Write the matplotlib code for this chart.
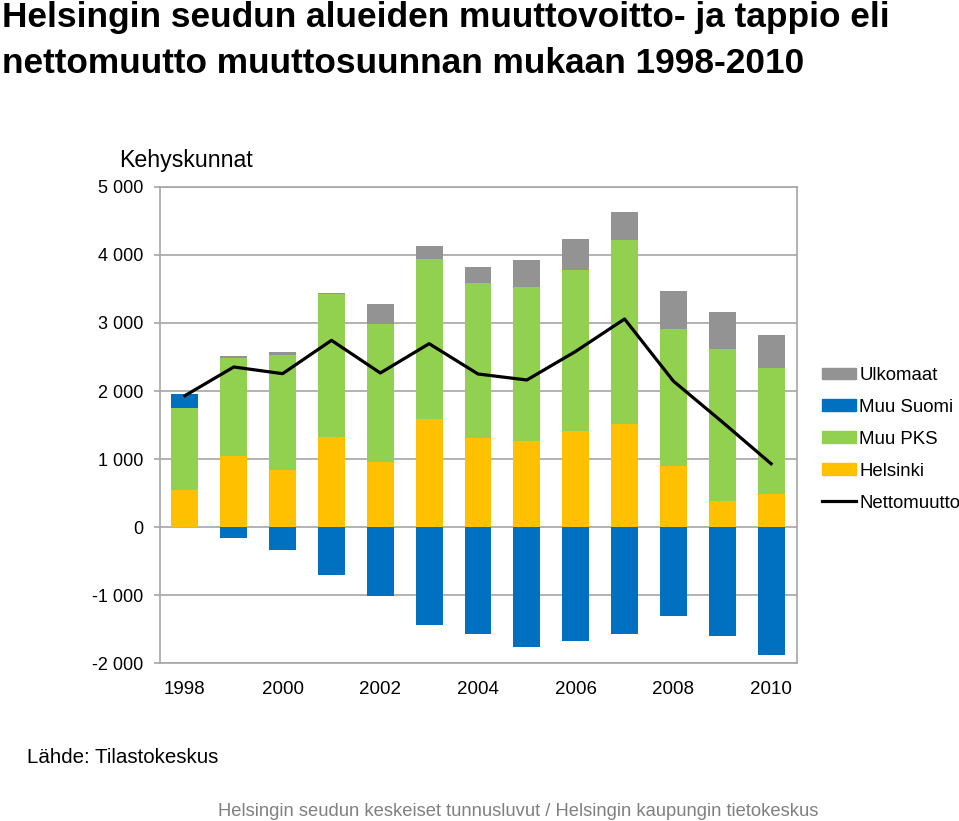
import numpy as np
import matplotlib.pyplot as plt
from matplotlib.patches import Patch
from matplotlib.lines import Line2D
from matplotlib.ticker import FuncFormatter

plt.rcParams['font.family'] = ['Liberation Sans', 'DejaVu Sans']

years = np.arange(1998, 2011)
helsinki = [540, 1039, 838, 1319, 951, 1593, 1304, 1270, 1407, 1515, 892, 387, 490]
muu_pks = [1205, 1446, 1687, 2107, 2039, 2348, 2279, 2259, 2377, 2710, 2025, 2226, 1848]
muu_suomi = [211, -161, -332, -702, -1020, -1444, -1571, -1771, -1673, -1576, -1312, -1605, -1888]
ulkomaat = [0, 25, 53, 15, 289, 191, 245, 402, 456, 407, 549, 544, 490]
nettomuutto = [1931, 2353, 2255, 2745, 2265, 2696, 2250, 2162, 2583, 3059, 2145, 1545, 930]

series = [("Helsinki", helsinki, "#FFC000"),
          ("Muu PKS", muu_pks, "#92D050"),
          ("Muu Suomi", muu_suomi, "#0070C0"),
          ("Ulkomaat", ulkomaat, "#939393")]

fig = plt.figure(figsize=(9.59, 8.21), dpi=100)
ax = fig.add_axes([160/959, 1-663/821, 637/959, 476/821])

pos = np.zeros(len(years))
neg = np.zeros(len(years))
for name, vals, col in series:
    v = np.array(vals, dtype=float)
    bottom = np.where(v >= 0, pos, neg)
    ax.bar(years, v, 0.55, bottom=bottom, color=col, zorder=2)
    pos = pos + np.where(v > 0, v, 0)
    neg = neg + np.where(v < 0, v, 0)

ax.plot(years, nettomuutto, color='black', lw=2.3, zorder=3)

ax.set_xlim(1997.49, 2010.53)
ax.set_ylim(-2000, 5000)
ax.set_yticks(np.arange(-2000, 5001, 1000))
ax.yaxis.set_major_formatter(FuncFormatter(lambda v, p: f"{int(v):,}".replace(",", " ")))
ax.set_xticks(years[::2])
ax.grid(axis='y', color='#A6A6A6', lw=1.2, zorder=0)
for s in ax.spines.values():
    s.set_color('#A6A6A6')
    s.set_linewidth(1.2)
ax.tick_params(axis='y', length=4, color='#A6A6A6', width=1.2, labelsize=13, pad=8)
ax.tick_params(axis='x', length=0, labelsize=13.5, pad=13)

fig.text(2/959, 1-27/821, "Helsingin seudun alueiden muuttovoitto- ja tappio eli",
         fontsize=25.4, fontweight='bold', va='baseline', ha='left')
fig.text(2/959, 1-73/821, "nettomuutto muuttosuunnan mukaan 1998-2010",
         fontsize=25.4, fontweight='bold', va='baseline', ha='left')
fig.text(119/959, 1-167/821, "Kehyskunnat", fontsize=16.7, va='baseline', ha='left')
fig.text(27/959, 1-763/821, "Lähde: Tilastokeskus", fontsize=14.8, va='baseline', ha='left')
fig.text(218/959, 1-816/821,
         "Helsingin seudun keskeiset tunnusluvut / Helsingin kaupungin tietokeskus",
         fontsize=13.25, color='#808080', va='baseline', ha='left')

handles = [Patch(color="#939393"), Patch(color="#0070C0"), Patch(color="#92D050"),
           Patch(color="#FFC000"), Line2D([], [], color='black', lw=2.3)]
labels = ["Ulkomaat", "Muu Suomi", "Muu PKS", "Helsinki", "Nettomuutto"]
fig.legend(handles, labels, loc='upper left', bbox_to_anchor=(822/959, 1-367/821),
           frameon=False, fontsize=13.4, handlelength=1.8, handleheight=0.6,
           handletextpad=0.2, labelspacing=0.8, borderpad=0, borderaxespad=0)

fig.savefig("out.png", dpi=100)
